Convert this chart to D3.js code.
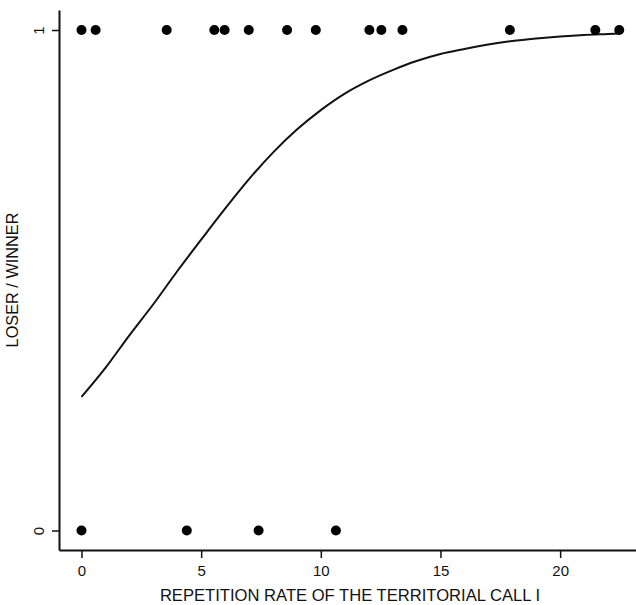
<!DOCTYPE html>
<meta charset="utf-8">
<style>
  body { margin: 0; background: #fff; }
  svg text { font-family: "Liberation Sans", Arial, sans-serif; fill: #111; }
</style>
<body></body>
<script src="https://d3js.org/d3.v7.min.js"></script>
<script>
  // observed outcomes (repetition rate, 0 = loser / 1 = winner)
  var winnerRates = [0, 0.59, 3.56, 5.55, 5.98, 6.99, 8.59, 9.79, 12.03, 12.53, 13.41, 17.9, 21.47, 22.47];
  var loserRates = [0, 4.4, 7.4, 10.63];

  // fitted logistic curve
  var curveX = [0, 1, 2, 3, 4, 5, 6, 7, 8, 9, 10, 11, 12, 13, 14, 15, 16, 17, 18, 19, 20, 21, 22, 22.5];
  var curveY = [0.267, 0.325, 0.39, 0.452, 0.518, 0.581, 0.643, 0.702, 0.755, 0.801, 0.84, 0.873, 0.899, 0.92, 0.938, 0.952, 0.962, 0.971, 0.978, 0.983, 0.987, 0.99, 0.992, 0.993];

  var xTicks = [0, 5, 10, 15, 20];
  var yTicks = [0, 1];

  var width = 636, height = 605;
  var plotLeft = 59, plotRight = 636, plotTop = 10, plotBottom = 550;

  var x = d3.scaleLinear().domain([-0.94, 23.17]).range([plotLeft, plotRight]);
  var y = d3.scaleLinear().domain([-0.039, 1.04]).range([plotBottom, plotTop]);

  var svg = d3.select("body").append("svg")
    .attr("width", width)
    .attr("height", height);

  var xAxis = svg.append("g")
    .attr("transform", "translate(0," + plotBottom + ")")
    .call(d3.axisBottom(x).tickValues(xTicks).tickFormat(d3.format("d"))
      .tickSize(8).tickPadding(7).tickSizeOuter(0));
  xAxis.select(".domain").attr("stroke", "#111").attr("stroke-width", 2);
  xAxis.selectAll(".tick line").attr("stroke", "#111").attr("stroke-width", 1.5);
  xAxis.selectAll(".tick text").style("font-size", "15px").attr("fill", "#111")
    .style("font-family", "Liberation Sans, Arial, sans-serif");

  var yAxis = svg.append("g")
    .attr("transform", "translate(" + plotLeft + ",0)")
    .call(d3.axisLeft(y).tickValues(yTicks).tickFormat(d3.format("d"))
      .tickSize(7).tickSizeOuter(0));
  yAxis.select(".domain").attr("stroke", "#111").attr("stroke-width", 2);
  yAxis.selectAll(".tick line").attr("stroke", "#111").attr("stroke-width", 1.5);
  yAxis.selectAll(".tick text")
    .style("font-size", "15px").attr("fill", "#111")
    .style("font-family", "Liberation Sans, Arial, sans-serif")
    .attr("x", null).attr("dy", null)
    .attr("transform", "translate(-21,0) rotate(-90)")
    .attr("text-anchor", "middle")
    .attr("dominant-baseline", "central");

  var line = d3.line()
    .x(function(d, i) { return x(curveX[i]); })
    .y(function(d) { return y(d); })
    .curve(d3.curveMonotoneX);

  svg.append("path")
    .datum(curveY)
    .attr("fill", "none")
    .attr("stroke", "#111")
    .attr("stroke-width", 2)
    .attr("d", line);

  svg.selectAll(".win")
    .data(winnerRates)
    .enter().append("circle")
    .attr("class", "win")
    .attr("cx", function(d) { return x(d); })
    .attr("cy", y(1))
    .attr("r", 5)
    .attr("fill", "#000");

  svg.selectAll(".lose")
    .data(loserRates)
    .enter().append("circle")
    .attr("class", "lose")
    .attr("cx", function(d) { return x(d); })
    .attr("cy", y(0))
    .attr("r", 5)
    .attr("fill", "#000");

  svg.append("text")
    .attr("x", 350)
    .attr("y", 601)
    .attr("text-anchor", "middle")
    .style("font-size", "16.6px")
    .text("REPETITION RATE OF THE TERRITORIAL CALL I");

  svg.append("text")
    .attr("transform", "translate(18,280) rotate(-90)")
    .attr("text-anchor", "middle")
    .style("font-size", "16.3px")
    .text("LOSER / WINNER");
</script>
